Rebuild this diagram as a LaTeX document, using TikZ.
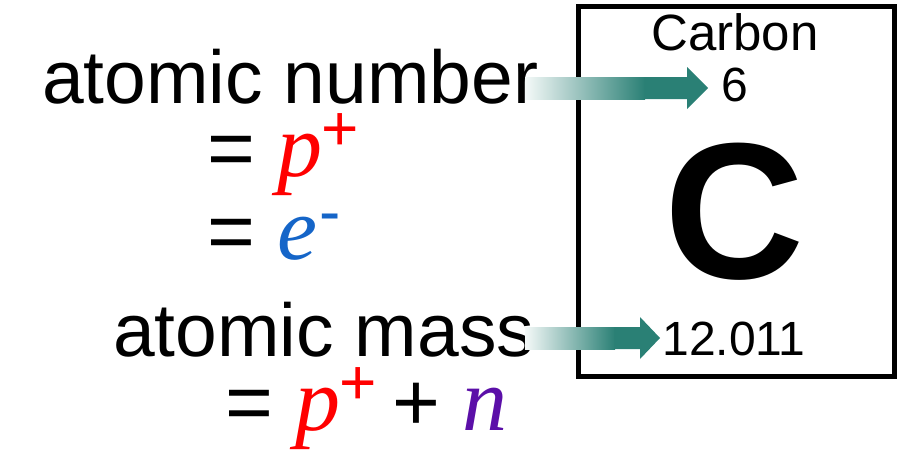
\documentclass[tikz,border=0pt]{standalone}
\usepackage{fontspec}
\setmainfont{Liberation Sans}
\newfontfamily\serif{Liberation Serif}
\definecolor{teal1}{HTML}{2A8075}
\definecolor{pred}{HTML}{FF0000}
\definecolor{eblue}{HTML}{1565C8}
\definecolor{npurple}{HTML}{5B0FA8}
\newcommand{\ital}[2]{{\fontsize{90}{90}\selectfont\serif\itshape\color{#1}#2}}
\newcommand{\supr}[2]{\raisebox{0.34em}{\fontsize{64}{64}\selectfont\color{#1}#2}}
\newcommand{\bigop}[1]{{\fontsize{82}{82}\selectfont #1}}
\tikzset{lbl/.style={inner sep=0pt,font=\fontsize{75}{75}\selectfont},
 el/.style={inner sep=0pt}}
\begin{document}
\begin{tikzpicture}[x=1pt,y=-1pt]
\useasboundingbox (0,0) rectangle (922,458);
\node[el,draw=black,line width=4.5pt,minimum width=316pt,minimum height=370pt,anchor=north west] (box) at (576,4) {};
\node[el,font=\fontsize{51}{51}\selectfont,anchor=base] (carbon) at (735,50) {Carbon};
\node[el,font=\fontsize{48}{48}\selectfont,anchor=base] (six) at (735,101) {6};
\node[el,font=\fontsize{194}{194}\selectfont\bfseries,anchor=base] (C) at (735,278) {C};
\node[el,font=\fontsize{48}{48}\selectfont,anchor=base] (mass) at (734,355) {12.011};
\node[lbl,anchor=base west] (an) at (42,103) {atomic number};
\node[lbl,anchor=base west] (pe) at (207,176) {\bigop{=}\kern22pt\ital{pred}{p}\kern-1pt\supr{pred}{+}};
\node[lbl,anchor=base west] (ee) at (207,259) {\bigop{=}\kern22pt\ital{eblue}{e}\kern2pt\supr{eblue}{-}};
\node[lbl,anchor=base west] (am) at (113,356) {atomic mass};
\node[lbl,anchor=base west] (pn) at (225,430) {\bigop{=}\kern22pt\ital{pred}{p}\kern-1pt\supr{pred}{+}\kern16pt\bigop{+}\kern22pt\ital{npurple}{n}};
% arrows
\shade[left color=teal1!5,right color=teal1,draw=none]
 (525,77) rectangle (645,99);
\fill[teal1] (644.5,77) -- (687,77) -- (687,67) -- (708,88) -- (687,109) -- (687,99) -- (644.5,99) -- cycle;
\shade[left color=teal1!5,right color=teal1,draw=none]
 (525,327) rectangle (615,349);
\fill[teal1] (614.5,327) -- (640,327) -- (640,317) -- (660,338) -- (640,359) -- (640,349) -- (614.5,349) -- cycle;
\end{tikzpicture}
\end{document}
